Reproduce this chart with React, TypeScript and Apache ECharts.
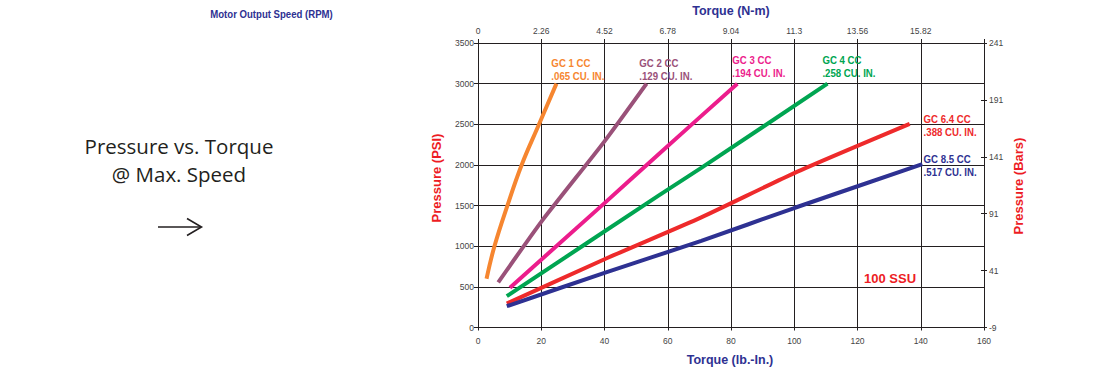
import React, { useEffect, useRef } from "react";
import * as echarts from "echarts";

// ---- data ----
const seriesNames = ["GC 1 CC", "GC 2 CC", "GC 3 CC", "GC 4 CC", "GC 6.4 CC", "GC 8.5 CC"];
const displacements = [".065 CU. IN.", ".129 CU. IN.", ".194 CU. IN.", ".258 CU. IN.", ".388 CU. IN.", ".517 CU. IN."];
const gc1 = [[2.7, 600], [5.2, 1000], [9.3, 1500], [13.8, 2000], [19.3, 2500], [24.8, 3000]];
const gc2 = [[6.4, 555], [20, 1300], [40, 2290], [53.3, 3000]];
const gc3 = [[10.1, 490], [40, 1530], [57.2, 2135], [82, 3000]];
const gc4 = [[9.1, 385], [57.2, 1625], [70.6, 1963], [110.5, 3000]];
const gc64 = [[9.1, 295], [40, 840], [70.6, 1355], [100, 1900], [136.5, 2505]];
const gc85 = [[9.1, 262], [40, 672], [70.6, 1065], [100, 1470], [140.5, 2010]];
const allSeries = [gc1, gc2, gc3, gc4, gc64, gc85];
const lbInTicks = [0, 20, 40, 60, 80, 100, 120, 140, 160];
const nmTickLabels = ["0", "2.26", "4.52", "6.78", "9.04", "11.3", "13.56", "15.82"];
const psiTicks = [0, 500, 1000, 1500, 2000, 2500, 3000, 3500];
const barTickLabels = ["-9", "41", "91", "141", "191", "241"];

// ---- layout / style ----
const colors = ["#f68630", "#9a5179", "#ec1d8c", "#00a551", "#ee2a2b", "#2e3192"];
const labelAnchors = [[23.2, 3342], [51.0, 3342], [80.4, 3382], [108.9, 3382], [140.9, 2655], [140.9, 2162]];
const NAVY = "#2e3192";
const RED = "#ed1c24";
const SANS = "'Liberation Sans', Arial, sans-serif";
const INK = "#231f20";
const GRID = { left: 478, top: 43, width: 506, height: 284.5 };

export default function App() {
  const ref = useRef<HTMLDivElement>(null);
  useEffect(() => {
    if (!ref.current) return;
    const chart = echarts.init(ref.current, undefined, { renderer: "svg" });
    const tickLabel = { fontFamily: SANS, fontSize: 8.5, color: "#444" };
    const axisLine = { show: true, onZero: false, lineStyle: { color: INK, width: 1 } };
    const hiddenLine = { show: false, onZero: false };
    const option: any = {
      animation: false,
      grid: [{ ...GRID }, { ...GRID }],
      xAxis: [
        {
          type: "value", gridIndex: 0, position: "bottom", min: lbInTicks[0], max: lbInTicks[lbInTicks.length - 1], interval: 20,
          axisLine, axisTick: { show: true, length: 3, lineStyle: { color: INK } },
          axisLabel: { ...tickLabel, margin: 9, formatter: (v: number) => String(v) },
          splitLine: { show: true, lineStyle: { color: INK, width: 1 } },
        },
        {
          type: "value", gridIndex: 0, position: "top", min: 0, max: 160, interval: 20,
          axisLine, axisTick: { show: true, length: 4, lineStyle: { color: INK } },
          axisLabel: { ...tickLabel, margin: 8, formatter: (v: number) => nmTickLabels[Math.round(v / 20)] ?? "" },
          splitLine: { show: false },
        },
        {
          type: "value", gridIndex: 1, position: "top", min: 0, max: 160, interval: 20,
          axisLine: hiddenLine, axisTick: { show: true, inside: true, length: 4, lineStyle: { color: INK } },
          axisLabel: { show: false }, splitLine: { show: false },
        },
      ],
      yAxis: [
        {
          type: "value", gridIndex: 0, position: "left", min: psiTicks[0], max: psiTicks[psiTicks.length - 1], interval: 500,
          axisLine, axisTick: { show: true, length: 4, lineStyle: { color: INK } },
          axisLabel: { ...tickLabel, margin: 4, formatter: (v: number) => String(v) },
          splitLine: { show: true, lineStyle: { color: INK, width: 1 } },
        },
        {
          type: "value", gridIndex: 0, position: "right", min: 0, max: 3500, interval: 700,
          axisLine, axisTick: { show: true, length: 3, lineStyle: { color: INK } },
          axisLabel: { ...tickLabel, margin: 5, formatter: (v: number) => barTickLabels[Math.round(v / 700)] ?? "" },
          splitLine: { show: false },
        },
        {
          type: "value", gridIndex: 1, position: "right", min: 0, max: 3500, interval: 700,
          axisLine: hiddenLine, axisTick: { show: true, inside: true, length: 3, lineStyle: { color: INK } },
          axisLabel: { show: false }, splitLine: { show: false },
        },
      ],
      series: allSeries.map((d, i) => ({
        name: seriesNames[i],
        type: "line",
        xAxisIndex: 0,
        yAxisIndex: 0,
        data: d,
        smooth: i === 0 ? 0.4 : 0.2,
        symbol: "none",
        lineStyle: { color: colors[i], width: 4, cap: "butt" },
        z: 3,
      })),
    };
    chart.setOption(option);

    const seriesLabels = labelAnchors.map((a, i) => {
      const p = chart.convertToPixel({ xAxisIndex: 0, yAxisIndex: 0 }, a) as number[];
      return {
        type: "text", x: p[0], y: p[1], scaleX: 0.84, z: 10,
        style: {
          text: seriesNames[i] + "\n" + displacements[i], fill: colors[i],
          font: `bold 11.5px ${SANS}`, lineHeight: 13.5, align: "left", verticalAlign: "top",
        },
      };
    });

    chart.setOption({
      graphic: [
        { type: "text", x: 271.5, y: 14, scaleX: 0.85, style: { text: "Motor Output Speed (RPM)", fill: NAVY, font: `bold 11.3px ${SANS}`, align: "center", verticalAlign: "middle" } },
        { type: "text", x: 179, y: 146, style: { text: "Pressure vs. Torque", fill: INK, font: "20.5px 'Open Sans', sans-serif", align: "center", verticalAlign: "middle" } },
        { type: "text", x: 179, y: 174, style: { text: "@ Max. Speed", fill: INK, font: "20.5px 'Open Sans', sans-serif", align: "center", verticalAlign: "middle" } },
        { type: "line", shape: { x1: 158, y1: 227, x2: 201, y2: 227 }, style: { stroke: INK, lineWidth: 1.6 } },
        { type: "polyline", shape: { points: [[187, 218.5], [201.5, 227], [187, 235.5]] }, style: { stroke: INK, lineWidth: 1.6, fill: "none" } },
        { type: "text", x: 731, y: 11, style: { text: "Torque (N-m)", fill: NAVY, font: `bold 12.5px ${SANS}`, align: "center", verticalAlign: "middle" } },
        { type: "text", x: 730, y: 360, style: { text: "Torque (lb.-In.)", fill: NAVY, font: `bold 12.5px ${SANS}`, align: "center", verticalAlign: "middle" } },
        { type: "text", x: 436, y: 178, rotation: Math.PI / 2, style: { text: "Pressure (PSI)", fill: RED, font: `bold 13px ${SANS}`, align: "center", verticalAlign: "middle" } },
        { type: "text", x: 1018, y: 186, rotation: Math.PI / 2, style: { text: "Pressure (Bars)", fill: RED, font: `bold 13px ${SANS}`, align: "center", verticalAlign: "middle" } },
        { type: "text", x: 864, y: 278, z: 10, style: { text: "100 SSU", fill: RED, font: `bold 13px ${SANS}`, align: "left", verticalAlign: "middle" } },
        ...seriesLabels,
      ],
    });
    return () => chart.dispose();
  }, []);
  return (
    <div
      ref={ref}
      style={{ position: "fixed", left: 0, top: 0, width: 1097, height: 370, background: "#fff" }}
    />
  );
}
